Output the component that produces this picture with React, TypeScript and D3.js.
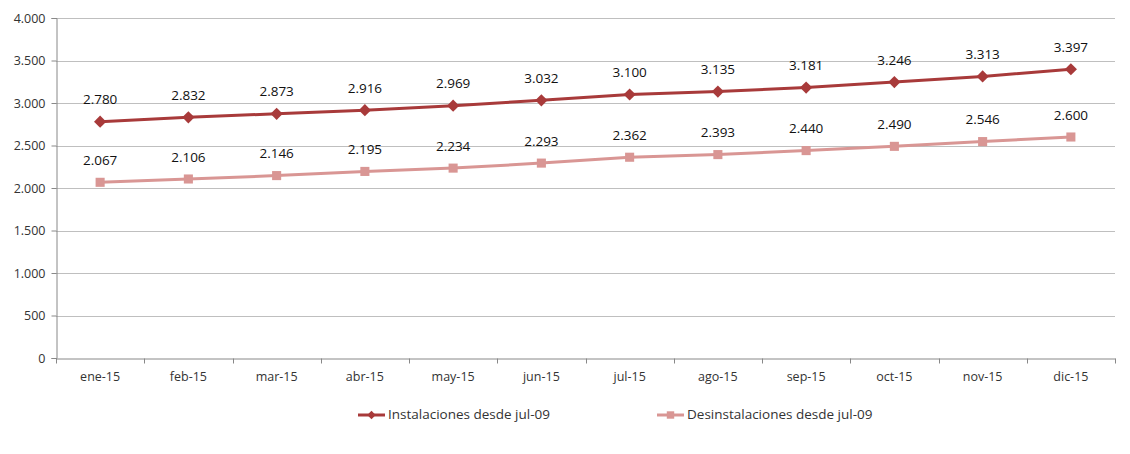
import { useEffect, useRef } from 'react';
import * as d3 from 'd3';

const MONTHS = ['ene-15', 'feb-15', 'mar-15', 'abr-15', 'may-15', 'jun-15', 'jul-15', 'ago-15', 'sep-15', 'oct-15', 'nov-15', 'dic-15'];
const INSTALACIONES = [2780, 2832, 2873, 2916, 2969, 3032, 3100, 3135, 3181, 3246, 3313, 3397];
const DESINSTALACIONES = [2067, 2106, 2146, 2195, 2234, 2293, 2362, 2393, 2440, 2490, 2546, 2600];
const Y_TICKS = [0, 500, 1000, 1500, 2000, 2500, 3000, 3500, 4000];

const WIDTH = 1130;
const HEIGHT = 454;
const MARGIN = { top: 18, right: 15, bottom: 96, left: 56 };

const DARK = '#A83A3A';
const PINK = '#D99694';
const FONT_FAMILY = '"Open Sans", "Noto Sans", Arial, sans-serif';

// es-ES number format: 2.780
const fmt = (v: number) => d3.format(',')(v).replace(/,/g, '.');

export default function App() {
  const svgRef = useRef<SVGSVGElement>(null);

  useEffect(() => {
    const svg = d3.select(svgRef.current);
    svg.selectAll('*').remove();
    svg.style('font-family', FONT_FAMILY);

    const innerW = WIDTH - MARGIN.left - MARGIN.right;
    const innerH = HEIGHT - MARGIN.top - MARGIN.bottom;

    const x = d3.scaleBand<string>().domain(MONTHS).range([0, innerW]);
    const y = d3.scaleLinear().domain([0, 4000]).range([innerH, 0]);
    const cx = (m: string) => (x(m) ?? 0) + x.bandwidth() / 2;

    const g = svg.append('g').attr('transform', `translate(${MARGIN.left},${MARGIN.top})`);

    // gridlines
    g.selectAll('line.grid')
      .data(Y_TICKS.filter((t) => t > 0))
      .join('line')
      .attr('class', 'grid')
      .attr('x1', 0)
      .attr('x2', innerW)
      .attr('y1', (d) => Math.round(y(d)) + 0.5)
      .attr('y2', (d) => Math.round(y(d)) + 0.5)
      .attr('stroke', '#bfbfbf');

    // y axis
    const yAxis = d3.axisLeft(y).tickValues(Y_TICKS).tickFormat((d) => fmt(d as number)).tickSize(5).tickPadding(6);
    g.append('g')
      .attr('transform', 'translate(0.5,0)')
      .call(yAxis)
      .call((sel) => sel.select('.domain').attr('stroke', '#888'))
      .call((sel) => sel.selectAll('.tick line').attr('stroke', '#888'))
      .selectAll('text')
      .style('font-size', '12.5px')
      .style('font-family', FONT_FAMILY)
      .attr('fill', '#333');

    // x axis
    const xAxis = d3.axisBottom(x).tickSize(0).tickPadding(14);
    const xg = g.append('g')
      .attr('transform', `translate(0,${innerH + 0.5})`)
      .call(xAxis)
      .call((sel) => sel.select('.domain').attr('stroke', '#888'));
    xg.selectAll('text')
      .style('font-size', '12.5px')
      .style('font-family', FONT_FAMILY)
      .attr('fill', '#333');
    // tick marks at band boundaries
    xg.selectAll('line.bound')
      .data(d3.range(MONTHS.length + 1))
      .join('line')
      .attr('class', 'bound')
      .attr('x1', (i) => Math.round(i * x.step()) + 0.5)
      .attr('x2', (i) => Math.round(i * x.step()) + 0.5)
      .attr('y1', 0)
      .attr('y2', 5)
      .attr('stroke', '#888');

    const series = [
      { name: 'Instalaciones desde jul-09', values: INSTALACIONES, color: DARK, marker: 'diamond' },
      { name: 'Desinstalaciones desde jul-09', values: DESINSTALACIONES, color: PINK, marker: 'square' },
    ];

    const line = d3.line<number>().x((_, i) => cx(MONTHS[i])).y((d) => y(d));
    const diamond = d3.symbol().type(d3.symbolDiamond2).size(95);
    const square = d3.symbol().type(d3.symbolSquare2).size(105);

    for (const s of series) {
      g.append('path')
        .datum(s.values)
        .attr('d', line)
        .attr('fill', 'none')
        .attr('stroke', s.color)
        .attr('stroke-width', 3);

      g.selectAll(null)
        .data(s.values)
        .join('path')
        .attr('transform', (d, i) => `translate(${cx(MONTHS[i])},${y(d)})`)
        .attr('d', s.marker === 'diamond' ? diamond() : square())
        .attr('fill', s.color);

      g.selectAll(null)
        .data(s.values)
        .join('text')
        .attr('x', (_, i) => cx(MONTHS[i]))
        .attr('y', (d) => y(d) - 21)
        .attr('text-anchor', 'middle')
        .attr('dominant-baseline', 'middle')
        .style('font-size', '13.5px')
        .attr('fill', '#111')
        .text((d) => fmt(d));
    }

    // legend
    const legendY = 415;
    const legendX = [358, 657];
    series.forEach((s, i) => {
      const lg = svg.append('g').attr('transform', `translate(${legendX[i]},${legendY})`);
      lg.append('line').attr('x1', 0).attr('x2', 27).attr('stroke', s.color).attr('stroke-width', 3);
      lg.append('path')
        .attr('transform', 'translate(13.5,0)')
        .attr('d', s.marker === 'diamond' ? d3.symbol().type(d3.symbolDiamond2).size(45)() : d3.symbol().type(d3.symbolSquare2).size(70)())
        .attr('fill', s.color);
      lg.append('text')
        .attr('x', 30)
        .attr('dominant-baseline', 'middle')
        .style('font-size', '13.5px')
        .attr('fill', '#333')
        .text(s.name);
    });
  }, []);

  return (
    <div style={{ position: 'absolute', left: 0, top: 0 }}>
      <svg ref={svgRef} width={WIDTH} height={HEIGHT} style={{ display: 'block', background: '#fff' }} />
    </div>
  );
}
